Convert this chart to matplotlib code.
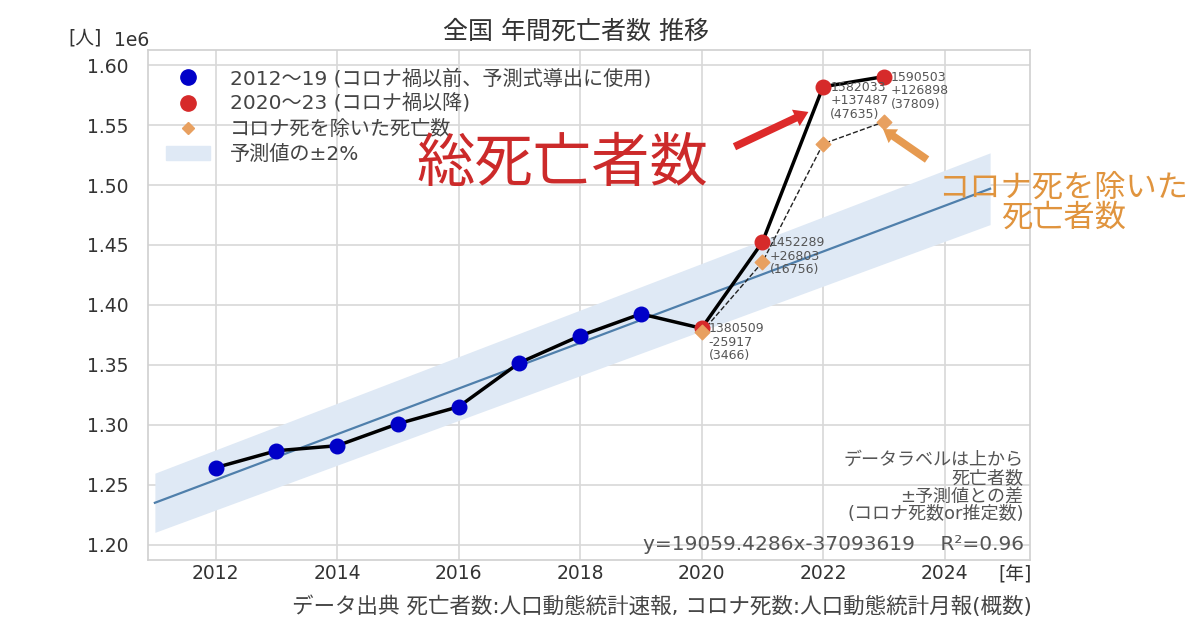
import matplotlib.pyplot as plt
import numpy as np
import matplotlib.patches as mpatches
from matplotlib.lines import Line2D

plt.rcParams['font.family'] = ['DejaVu Sans', 'Noto Sans CJK JP']

# 年間死亡者数（速報）
years_pre = [2012, 2013, 2014, 2015, 2016, 2017, 2018, 2019]
deaths_pre = [1264200, 1278300, 1282500, 1300800, 1315000, 1351700, 1374200, 1392500]
years_post = [2020, 2021, 2022, 2023]
deaths_post = [1380509, 1452289, 1582033, 1590503]
covid_deaths = [3466, 16756, 47635, 37809]
diff_labels = ['-25917', '+26803', '+137487', '+126898']

slope = 19059.4286
intercept = -37093619
fit_years = [2011, 2024.75]

TXT = '#555555'

fig = plt.figure(figsize=(12, 6.28), dpi=100)
ax = fig.add_axes([0.123, 0.108, 0.735, 0.812])

fx = np.array(fit_years)
fy = slope * fx + intercept
ax.fill_between(fx, fy * 0.98, fy * 1.02, color='#dfe9f5', lw=0, zorder=1)
ax.plot(fx, fy, color='#4f7fab', lw=1.6, zorder=2)

all_years = years_pre + years_post
all_deaths = deaths_pre + deaths_post
ax.plot(all_years, all_deaths, color='black', lw=2.5, zorder=3)

excl = [d - c for d, c in zip(deaths_post, covid_deaths)]
ax.plot(years_post, excl, color='#222222', lw=1, ls='--', zorder=3)

ax.scatter(years_pre, deaths_pre, s=110, color='#0000c8', zorder=5)
ax.scatter(years_post, deaths_post, s=110, color='#d62a2a', zorder=5)
ax.scatter(years_post, excl, s=55, marker='D', color='#e8a060', zorder=6)

for x, d, df, c in zip(years_post, deaths_post, diff_labels, covid_deaths):
    ax.text(x + 0.12, d + 5000, f'{d}\n{df}\n({c})', fontsize=9, color=TXT,
            va='top', ha='left', linespacing=1.05, zorder=7)

ax.set_xlim(2010.88, 2025.4)
ax.set_ylim(1.187e6, 1.6125e6)
ax.set_xticks([2012, 2014, 2016, 2018, 2020, 2022, 2024])
ax.set_yticks(np.arange(1.20e6, 1.601e6, 0.05e6))
ax.ticklabel_format(axis='y', style='sci', scilimits=(6, 6))
ax.tick_params(colors='#333333', labelsize=13.5, length=0)
ax.tick_params(axis='y', pad=14)
ax.tick_params(axis='x', pad=3)
off = ax.yaxis.get_offset_text()
off.set_fontsize(13.5)
off.set_color('#333333')
off.set_x(-0.038)
ax.grid(True, color='#d8d8d8', lw=1.2)
ax.set_axisbelow(True)
for s in ax.spines.values():
    s.set_color('#d0d0d0')
    s.set_linewidth(1.2)

fig.text(0.071, 0.925, '[人]', fontsize=13.5, color='#333333', ha='center', va='bottom')
fig.text(0.832, 0.100, '[年]', fontsize=13.5, color='#333333', ha='left', va='top')

fig.text(0.48, 0.950, '全国 年間死亡者数 推移', fontsize=18, color='#333333', ha='center', va='center')

handles = [
    Line2D([], [], marker='o', ls='none', color='#0000c8', markersize=11),
    Line2D([], [], marker='o', ls='none', color='#d62a2a', markersize=11),
    Line2D([], [], marker='D', ls='none', color='#e8a060', markersize=6),
    mpatches.Patch(color='#dfe9f5'),
]
labels = ['2012～19 (コロナ禍以前、予測式導出に使用)', '2020～23 (コロナ禍以降)',
          'コロナ死を除いた死亡数', '予測値の±2%']
leg = ax.legend(handles, labels, loc='upper left', frameon=False, fontsize=14.5,
                labelcolor='#444444', handletextpad=1.0, borderaxespad=0.5,
                labelspacing=0.3, handlelength=2.2)

ax.text(2015.3, 1.517e6, '総死亡者数', fontsize=42, color='#cc2a2a',
        ha='left', va='center', zorder=8)
ax.annotate('', xy=(2021.8, 1.562e6), xytext=(2020.5, 1.531e6),
            arrowprops=dict(arrowstyle='simple,head_width=1.3,head_length=1.0,tail_width=0.55',
                            color='#dd2a2a', lw=0), zorder=8)

fig.text(0.886, 0.676, 'コロナ死を除いた\n死亡者数', fontsize=22.5, color='#e0943e',
         ha='center', va='center', linespacing=1.05)
ax.annotate('', xy=(2022.95, 1.548e6), xytext=(2023.75, 1.520e6),
            arrowprops=dict(arrowstyle='simple,head_width=1.2,head_length=0.9,tail_width=0.55',
                            color='#e69a50', lw=0), zorder=8)

ax.text(2025.3, 1.278e6, 'データラベルは上から\n死亡者数\n±予測値との差\n(コロナ死数or推定数)',
        fontsize=13, color=TXT, ha='right', va='top', linespacing=1.0)
ax.text(2025.3, 1.200e6, 'y=19059.4286x-37093619    R²=0.96',
        fontsize=14.5, color=TXT, ha='right', va='center')

fig.text(0.552, 0.035, 'データ出典 死亡者数:人口動態統計速報, コロナ死数:人口動態統計月報(概数)',
         fontsize=15.5, color='#444444', ha='center', va='center')

fig.savefig('out.png', dpi=100)
